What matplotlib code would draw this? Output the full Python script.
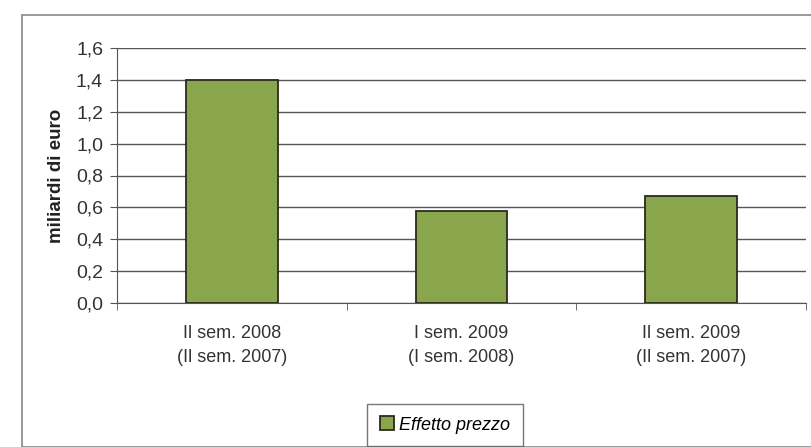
import numpy as np
import matplotlib
matplotlib.use('agg')
import matplotlib.pyplot as plt
from matplotlib.patches import Rectangle

# Data
categories = ["Il sem. 2008\n(Il sem. 2007)", "I sem. 2009\n(I sem. 2008)", "Il sem. 2009\n(Il sem. 2007)"]
values = [1.40, 0.58, 0.67]
series_name = "Effetto prezzo"
yticks = [0.0, 0.2, 0.4, 0.6, 0.8, 1.0, 1.2, 1.4, 1.6]

plt.rcParams['font.family'] = ['Liberation Sans', 'DejaVu Sans']

fig = plt.figure(figsize=(8.11, 4.47), dpi=100, facecolor='white')
ax = fig.add_axes([117/811, 1-303/447, 689/811, 255/447])

# outer chart frame
fig.patches.append(Rectangle((22/811, 0.0), 1.0, 1-15/447, transform=fig.transFigure,
                             fill=False, edgecolor='#888888', linewidth=1.2))

x = np.arange(len(categories))
ax.bar(x, values, width=0.4, color='#8aa64c', edgecolor='#2a2a1e', linewidth=1.3,
       label=series_name, zorder=3)

ax.set_xlim(-0.5, len(categories) - 0.5)
ax.set_ylim(0, 1.6)
ax.set_yticks(yticks)
ax.set_yticklabels([("%.1f" % v).replace('.', ',') for v in yticks], fontsize=14, color='#333333')
ax.yaxis.grid(True, color='#555555', linewidth=1.0, zorder=0)
ax.set_axisbelow(True)

# category labels centred, ticks at boundaries
ax.set_xticks(x)
ax.set_xticklabels(categories, fontsize=13, color='#333333', linespacing=1.55)
ax.tick_params(axis='x', length=0, pad=16)
ax.set_xticks(np.arange(len(categories) + 1) - 0.5, minor=True)
ax.tick_params(axis='x', which='minor', length=5, color='#555555')
ax.tick_params(axis='y', length=5, color='#555555', pad=5)

for s in ['top', 'right']:
    ax.spines[s].set_visible(False)
ax.spines['left'].set_color('#555555')
ax.spines['bottom'].set_color('#555555')

ax.set_ylabel("miliardi di euro", fontsize=13.5, fontweight='bold', color='#222222', labelpad=8)

leg = fig.legend(loc='center', bbox_to_anchor=(445/811, 1-425/447), frameon=True,
                 fancybox=False, edgecolor='#555555', handlelength=0.8, handleheight=0.8,
                 handletextpad=0.3, borderpad=0.7, prop={'style': 'italic', 'size': 13})

plt.savefig("out.png", dpi=100)
